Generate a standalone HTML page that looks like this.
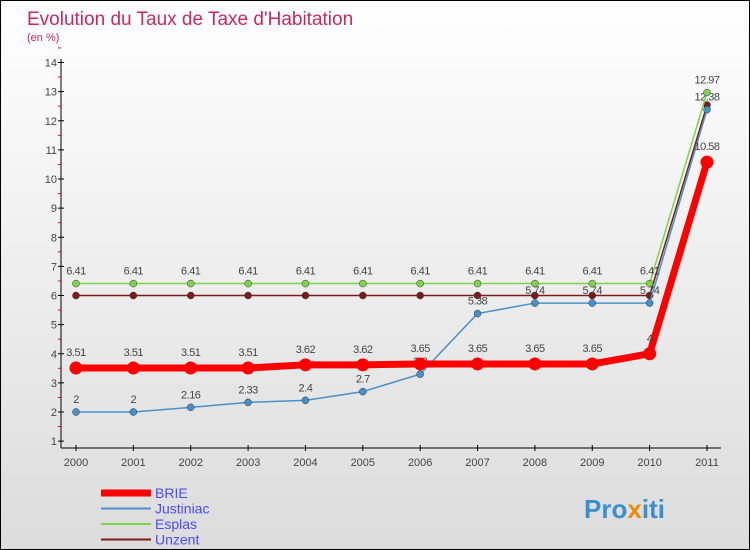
<!DOCTYPE html>
<html><head><meta charset="utf-8"><style>
body{margin:0}
#c{width:750px;height:550px;position:relative;overflow:hidden;font-family:"Liberation Sans",sans-serif;background:linear-gradient(#fff,#dcdcdc);border:1px solid #000;box-sizing:border-box}
</style></head><body>
<div id="c">
<svg id="s" width="750" height="550" style="position:absolute;left:0;top:0">
<text x="26" y="24" font-size="19" fill="#c8285f">Evolution du Taux de Taxe d'Habitation</text>
<text x="26" y="40" font-size="11" fill="#c8285f">(en %)</text>
<g><text x="583" y="517" font-size="26" font-weight="bold" fill="#3a8fd0">Pro<tspan fill="#f08a00">x</tspan>iti</text></g>
</svg>
</div>
<script>
const years=["2000","2001","2002","2003","2004","2005","2006","2007","2008","2009","2010","2011"];
const brie=[3.51,3.51,3.51,3.51,3.62,3.62,3.65,3.65,3.65,3.65,4,10.58];
const justiniac=[2,2,2.16,2.33,2.4,2.7,3.3,5.38,5.74,5.74,5.74,12.38];
const esplas=[6.41,6.41,6.41,6.41,6.41,6.41,6.41,6.41,6.41,6.41,6.41,12.97];
const unzent=[6,6,6,6,6,6,6,6,6,6,6,12.54];
const yTicks=[1,2,3,4,5,6,7,8,9,10,11,12,13,14];
const svg=document.getElementById('s');const NS='http://www.w3.org/2000/svg';
function X(i){return 75+i*(706-75)/11;}
function Y(v){return 411-(v-2)*29.125;}
function mk(t,a,p){const e=document.createElementNS(NS,t);for(const k in a)e.setAttribute(k,a[k]);(p||svg).appendChild(e);return e;}
const ax=mk('g',{});


mk('line',{x1:60,y1:58,x2:60,y2:447,stroke:'#000'},ax);
mk('line',{x1:60,y1:447,x2:720,y2:447,stroke:'#000'},ax);
yTicks.forEach(v=>{mk('line',{x1:57,y1:Y(v),x2:63,y2:Y(v),stroke:'#000'},ax);
mk('line',{x1:57,y1:Y(v+0.5),x2:60,y2:Y(v+0.5),stroke:'red'},ax);
const t=mk('text',{x:56,y:Y(v)+4,'font-size':11,fill:'#444','text-anchor':'end'},ax);t.textContent=v;

});
years.forEach((y,i)=>{mk('line',{x1:X(i),y1:444,x2:X(i),y2:450,stroke:'#000'},ax);
const t=mk('text',{x:X(i),y:465,'font-size':11,fill:'#444','text-anchor':'middle'},ax);t.textContent=y;

});
function series(d,col,w,r,name,lab,dy){const g=mk('g',{});


mk('polyline',{points:d.map((v,i)=>X(i)+','+Y(v)).join(' '),fill:'none',stroke:col,'stroke-width':w,'stroke-linejoin':'round'},g);
d.forEach((v,i)=>{const c=mk('circle',{cx:X(i),cy:Y(v),r:r,fill:col,stroke:r<4?'#333':'none','stroke-width':0.5},g);


if(lab){const t=mk('text',{x:X(i),y:Y(v)+dy,'font-size':11,fill:'#444','text-anchor':'middle','letter-spacing':'-0.5'},g);t.textContent=v;

}});}
series(unzent,'#7a1c1c',1.5,3.5,'unzent',false,0);
series(justiniac,'#4a90c8',1.5,3.5,'justiniac',true,-9);
series(esplas,'#7ed34a',1.5,3.5,'esplas',true,-9);
series(brie,'#ff0000',7,6.5,'brie',true,-12);
const leg=[['BRIE','#ff0000',7],['Justiniac','#4a90c8',2],['Esplas','#7ed34a',2],['Unzent','#7a1c1c',2]];
leg.forEach((l,i)=>{const g=mk('g',{});


const y=492+i*15.5;mk('line',{x1:100,y1:y,x2:150,y2:y,stroke:l[1],'stroke-width':l[2]},g);
const t=mk('text',{x:154,y:y+5,'font-size':14,fill:'#4a4aff'},g);t.textContent=l[0];});
</script>
</body></html>
